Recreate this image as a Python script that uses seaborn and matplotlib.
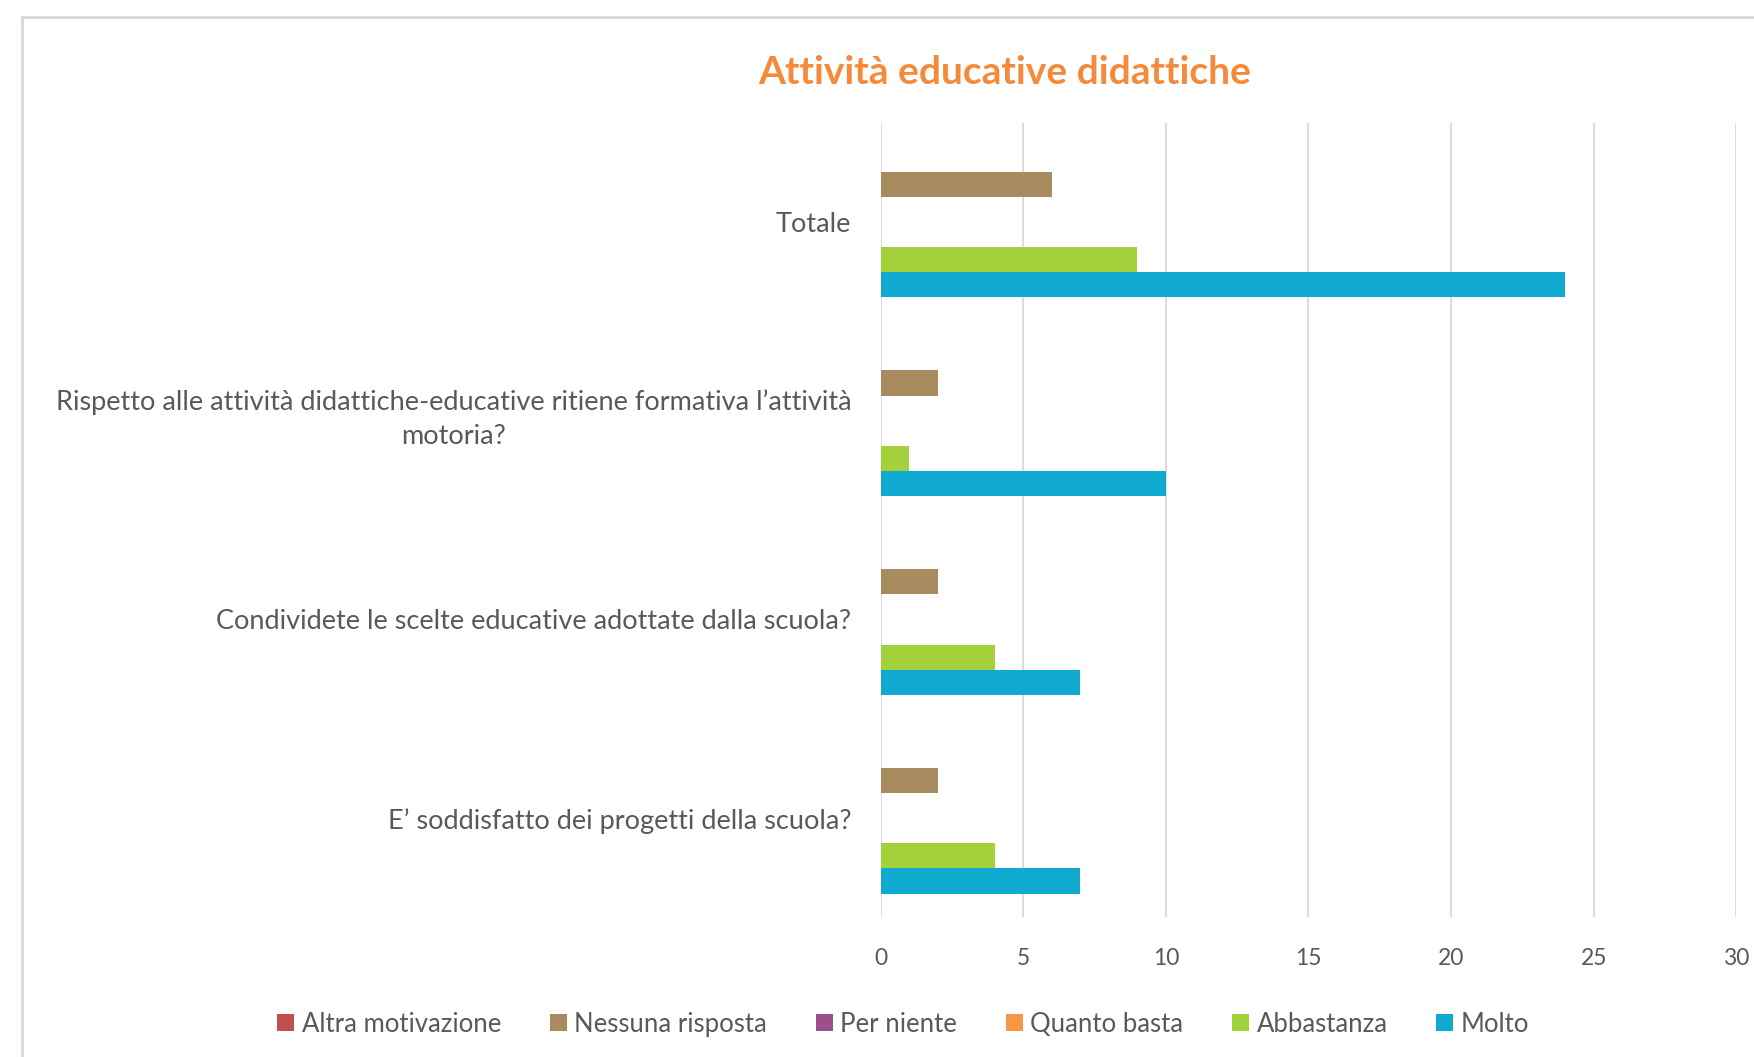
import matplotlib
matplotlib.use("Agg")
import matplotlib.pyplot as plt
import matplotlib.transforms as mtransforms
from matplotlib.patches import Rectangle
import seaborn as sns
import pandas as pd

# data
questions = [
    "Totale",
    "Rispetto alle attività didattiche-educative ritiene formativa l\u2019attività\nmotoria?",
    "Condividete le scelte educative adottate dalla scuola?",
    "E\u2019 soddisfatto dei progetti della scuola?",
]
answers = ["Altra motivazione", "Nessuna risposta", "Per niente",
           "Quanto basta", "Abbastanza", "Molto"]
altra = [0, 0, 0, 0]
nessuna = [6, 2, 2, 2]
per_niente = [0, 0, 0, 0]
quanto_basta = [0, 0, 0, 0]
abbastanza = [9, 1, 4, 4]
molto = [24, 10, 7, 7]

colors = ["#C0504D", "#A88B5F", "#9B4F8B", "#F79646", "#A3D13B", "#10A9CF"]
text_gray = "#595959"
grid_gray = "#D9D9D9"

rows = []
for ans, vals in zip(answers, [altra, nessuna, per_niente, quanto_basta, abbastanza, molto]):
    for q, v in zip(questions, vals):
        rows.append({"Domanda": q, "Risposta": ans, "Valore": v})
df = pd.DataFrame(rows)

sns.set_theme(style="white")
plt.rcParams["font.family"] = ["Lato", "DejaVu Sans"]

fig = plt.figure(figsize=(17.54, 10.57), dpi=100)
ax = fig.add_axes([0.502, 0.132, 0.488, 0.752])

sns.barplot(data=df, y="Domanda", x="Valore", hue="Risposta",
            order=questions, hue_order=answers, palette=colors,
            saturation=1, orient="h", width=0.76, linewidth=0, ax=ax)

ax.set_xlim(0, 30)
ax.set_xticks(range(0, 31, 5))
ax.grid(axis="x", color=grid_gray, linewidth=1.3)
ax.set_axisbelow(True)
for s in ax.spines.values():
    s.set_visible(False)
ax.set_xlabel("")
ax.set_ylabel("")
ax.tick_params(axis="x", length=0, pad=22, labelsize=16.5, labelcolor=text_gray)
ax.tick_params(axis="y", length=0, pad=21, labelsize=19.5, labelcolor=text_gray)
for lbl in ax.get_yticklabels():
    lbl.set_multialignment("center")
    lbl.set_linespacing(1.45)
    if "\n" in lbl.get_text():
        # nudge the two-line label up a little
        lbl.set_transform(lbl.get_transform() +
                          mtransforms.ScaledTranslation(0, 6 / 72, fig.dpi_scale_trans))

handles, labels = ax.get_legend_handles_labels()
ax.get_legend().remove()
fig.legend(handles, labels, loc="center", bbox_to_anchor=(0.515, 0.031),
           ncol=6, frameon=False, fontsize=18.5, labelcolor=text_gray,
           handlelength=0.65, handleheight=0.65, handletextpad=0.3,
           columnspacing=1.9)

fig.text(0.573, 0.931, "Attività educative didattiche", ha="center", va="center",
         fontsize=28, fontweight="bold", color="#F58A3A")

# chart frame
fig.patches.append(Rectangle((22 / 1754, -0.05), 1.1, 1 - 17 / 1057 + 0.05,
                             transform=fig.transFigure, fill=False,
                             edgecolor=grid_gray, linewidth=2))

fig.savefig("out.png", dpi=100)
